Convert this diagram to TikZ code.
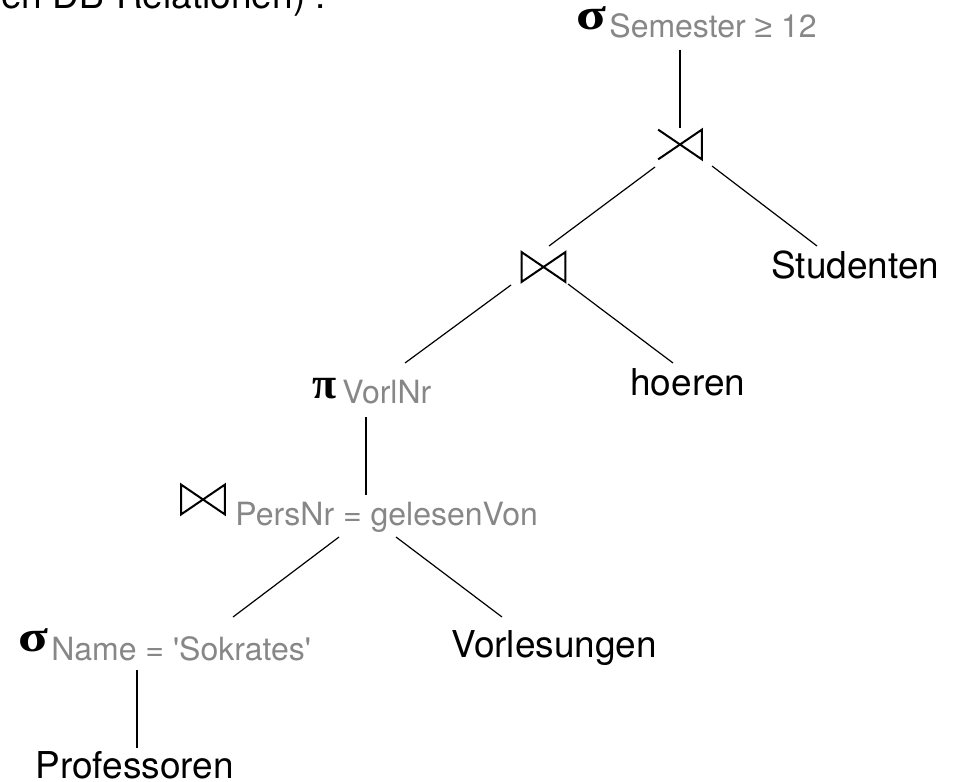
\documentclass[tikz,border=0pt]{standalone}
\usepackage{fontspec}
\setmainfont{TeX Gyre Heros}
\newfontfamily\greekfont{Liberation Serif}
\newfontfamily\symfont{Liberation Sans}
\definecolor{subgray}{gray}{0.53}

\tikzset{
  rel/.style={anchor=base west, inner sep=0pt, font=\fontsize{18.5}{22}\selectfont},
  cond/.style={anchor=base west, inner sep=0pt, text=subgray, font=\fontsize{16}{19}\selectfont},
  op/.style={anchor=base west, inner sep=0pt, font=\fontsize{22}{26}\selectfont\greekfont\bfseries},
  joinbox/.style={minimum width=21.5pt, minimum height=14.5pt, inner sep=0pt},
  conn/.style={line width=0.6pt},
  symline/.style={line width=1pt, line join=miter}
}
% join symbols drawn over an empty box
\newcommand{\joinmark}[1]{\draw[symline] (#1.south west) -- (#1.north east) -- (#1.south east) -- (#1.north west) -- cycle;}
\newcommand{\semijoinmark}[1]{\draw[symline] (#1.south west) -- (#1.north east) -- (#1.south east) -- (#1.north west);}
\newcommand{\sig}{\scalebox{1.25}[1]{σ}}

\begin{document}
\begin{tikzpicture}[x=0.5pt,y=-0.5pt]
\useasboundingbox (0,0) rectangle (956,781);
% header line, cut off at the top
\node[rel] (hdr) at (1,9) {en DB-Relationen) :};

% operators
\node[op] (selsem) at (576,30) {\sig};
\node[cond] (semtxt) at (609,38) {Semester {\symfont ≥} 12};
\node[joinbox] (semi) at (680,144.5) {};
\semijoinmark{semi}
\node[joinbox] (join1) at (543.5,267) {};
\joinmark{join1}
\node[op] (proj) at (312,398) {π};
\node[cond] (vorltxt) at (342,403) {VorlNr};
\node[joinbox] (join2) at (203,499.5) {};
\joinmark{join2}
\node[cond] (perstxt) at (235,525) {PersNr = gelesenVon};
\node[op] (selname) at (18,651) {\sig};
\node[cond] (nametxt) at (51,660) {Name = \textquotesingle Sokrates\textquotesingle};

% relations
\node[rel] (stud) at (771,278) {Studenten};
\node[rel] (hoeren) at (630,395) {hoeren};
\node[rel] (vorl) at (451,657) {Vorlesungen};
\node[rel] (prof) at (35,778) {Professoren};

% tree edges
\draw[conn] ([shift={(71,12)}]semtxt.base west) -- ([shift={(0,-16.5)}]semi.center);
\draw[conn] ([shift={(-25,22.5)}]semi.center) -- ([shift={(5.5,-21)}]join1.center);
\draw[conn] ([shift={(32,21.5)}]semi.center) -- ([shift={(46,-32)}]stud.base west);
\draw[conn] ([shift={(-32.5,18)}]join1.center) -- ([shift={(63,-40)}]vorltxt.base west);
\draw[conn] ([shift={(24.5,17)}]join1.center) -- ([shift={(43,-32)}]hoeren.base west);
\draw[conn] ([shift={(24,14)}]vorltxt.base west) -- ([shift={(131,-30)}]perstxt.base west);
\draw[conn] ([shift={(104,12)}]perstxt.base west) -- ([shift={(182,-43)}]nametxt.base west);
\draw[conn] ([shift={(161,12)}]perstxt.base west) -- ([shift={(51,-40)}]vorl.base west);
\draw[conn] ([shift={(86,10)}]nametxt.base west) -- ([shift={(102,-30)}]prof.base west);
\end{tikzpicture}
\end{document}
